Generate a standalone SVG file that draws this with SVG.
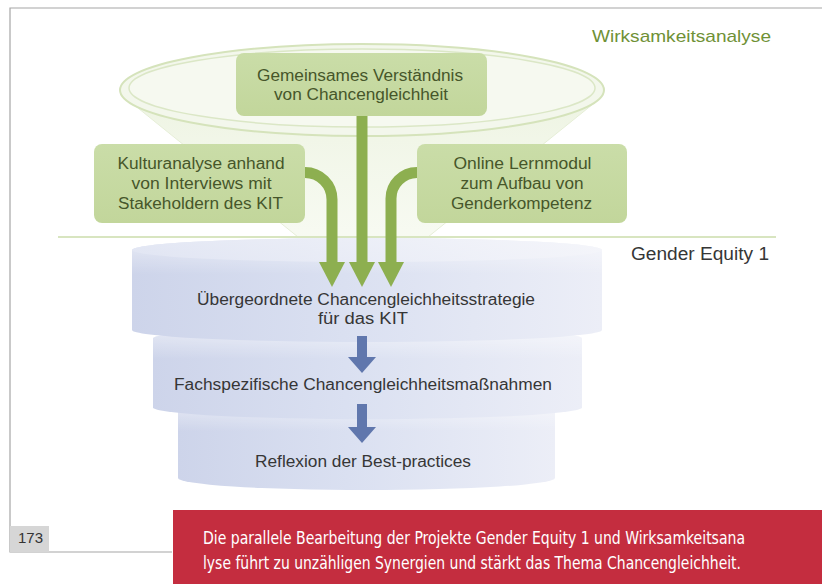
<svg xmlns="http://www.w3.org/2000/svg" width="822" height="584" viewBox="0 0 822 584">
  <defs>
    <style>
      .gtxt { font-family: "Liberation Sans", Arial, sans-serif; font-size: 16px; fill: #46562a; }
      .ttxt { font-family: "Liberation Sans", Arial, sans-serif; font-size: 16px; fill: #363636; }
      .box { fill: url(#boxGrad); }
      .garrow { fill: #8daf50; }
      .gline { fill: none; stroke: #8daf50; stroke-width: 11; }
      .barrow { fill: #6077ad; }
      .rtxt { font-family: "Liberation Sans Narrow", "DejaVu Sans Condensed", "Liberation Sans", sans-serif; font-size: 17px; fill: #ffffff; }
    </style>
    <linearGradient id="boxGrad" x1="0" y1="0" x2="0" y2="1">
      <stop offset="0" stop-color="#cadda8"/>
      <stop offset="1" stop-color="#c2d69b"/>
    </linearGradient>
    <linearGradient id="tierGrad" x1="0" y1="0" x2="1" y2="0">
      <stop offset="0" stop-color="#cdd4ea"/>
      <stop offset="0.45" stop-color="#dae0f1"/>
      <stop offset="1" stop-color="#eceef7"/>
    </linearGradient>
    <linearGradient id="shade" x1="0" y1="0" x2="0" y2="1">
      <stop offset="0" stop-color="#ffffff" stop-opacity="0.55"/>
      <stop offset="0.35" stop-color="#ffffff" stop-opacity="0"/>
      <stop offset="1" stop-color="#ffffff" stop-opacity="0"/>
    </linearGradient>
    <linearGradient id="capGrad" x1="0" y1="0" x2="1" y2="0">
      <stop offset="0" stop-color="#e3e7f4"/>
      <stop offset="1" stop-color="#f4f5fa"/>
    </linearGradient>
    <linearGradient id="coneGrad" x1="0" y1="0" x2="0" y2="1">
      <stop offset="0" stop-color="#eef4e3"/>
      <stop offset="1" stop-color="#f4f8ec" stop-opacity="0.7"/>
    </linearGradient>
  </defs>

  <rect x="0" y="0" width="822" height="584" fill="#ffffff"/>

  <!-- page frame -->
  <g id="frame" fill="none" stroke="#a6a6a6" stroke-width="1.2">
    <path d="M822,8 H10 V552 H172"/>
  </g>

  <!-- funnel -->
  <g id="funnel">
    <path d="M128,100 L298,237 L428,237 L598,100 Z" fill="url(#coneGrad)" stroke="#e6eed7" stroke-width="1"/>
    <ellipse cx="362" cy="90" rx="242" ry="46" fill="#f3f7ec" stroke="#d5e3bb" stroke-width="2"/>
    <ellipse cx="362" cy="88" rx="233" ry="39" fill="#f6f9f0" stroke="#dbe7c6" stroke-width="1.5"/>
  </g>

  <!-- separator -->
  <line x1="58" y1="237" x2="776" y2="237" stroke="#d8e5c0" stroke-width="2"/>

  <text x="592" y="42" font-family="Liberation Sans, Arial, sans-serif" font-size="17" fill="#6f9136" textLength="179" lengthAdjust="spacingAndGlyphs">Wirksamkeitsanalyse</text>
  <text x="631" y="260" font-family="Liberation Sans, Arial, sans-serif" font-size="18" fill="#363636" textLength="138" lengthAdjust="spacingAndGlyphs">Gender Equity 1</text>

  <!-- tiers (bottom first) -->
  <g id="tier3">
    <path d="M178,412 A188,12 0 0 1 555,412 L555,478 A188,12 0 0 1 178,478 Z" fill="url(#tierGrad)"/>
    <path d="M178,412 A188,12 0 0 1 555,412 L555,478 A188,12 0 0 1 178,478 Z" fill="url(#shade)"/>
    <text class="ttxt" x="255" y="467" textLength="216" lengthAdjust="spacingAndGlyphs">Reflexion der Best-practices</text>
  </g>
  <g id="tier2">
    <path d="M153,338 A215,12 0 0 1 582,338 L582,408 A215,12 0 0 1 153,408 Z" fill="url(#tierGrad)"/>
    <path d="M153,338 A215,12 0 0 1 582,338 L582,408 A215,12 0 0 1 153,408 Z" fill="url(#shade)"/>
    <text class="ttxt" x="174" y="390" textLength="378" lengthAdjust="spacingAndGlyphs">Fachspezifische Chancengleichheitsmaßnahmen</text>
  </g>
  <g id="tier1">
    <path d="M132,250 A235,12 0 0 1 602,250 L602,330 A235,12 0 0 1 132,330 Z" fill="url(#tierGrad)"/>
    <path d="M132,250 A235,12 0 0 1 602,250 L602,330 A235,12 0 0 1 132,330 Z" fill="url(#shade)"/>
    <ellipse cx="367" cy="250" rx="235" ry="12" fill="url(#capGrad)" opacity="0.8"/>
    <text class="ttxt" x="197" y="305" textLength="338" lengthAdjust="spacingAndGlyphs">Übergeordnete Chancengleichheitsstrategie</text>
    <text class="ttxt" x="318" y="324" textLength="90" lengthAdjust="spacingAndGlyphs">für das KIT</text>
  </g>

  <!-- green boxes -->
  <g id="box-top">
    <rect class="box" x="236" y="53" width="251" height="63" rx="8"/>
    <text class="gtxt" x="257" y="81" textLength="206" lengthAdjust="spacingAndGlyphs">Gemeinsames Verständnis</text>
    <text class="gtxt" x="274" y="100" textLength="174" lengthAdjust="spacingAndGlyphs">von Chancengleichheit</text>
  </g>
  <g id="box-left">
    <rect class="box" x="94" y="144" width="211" height="79" rx="8"/>
    <text class="gtxt" x="117.5" y="169" textLength="167" lengthAdjust="spacingAndGlyphs">Kulturanalyse anhand</text>
    <text class="gtxt" x="131.5" y="189" textLength="140" lengthAdjust="spacingAndGlyphs">von Interviews mit</text>
    <text class="gtxt" x="118" y="209" textLength="165" lengthAdjust="spacingAndGlyphs">Stakeholdern des KIT</text>
  </g>
  <g id="box-right">
    <rect class="box" x="417" y="144" width="210" height="79" rx="8"/>
    <text class="gtxt" x="453.5" y="169" textLength="138" lengthAdjust="spacingAndGlyphs">Online Lernmodul</text>
    <text class="gtxt" x="460.5" y="189" textLength="123" lengthAdjust="spacingAndGlyphs">zum Aufbau von</text>
    <text class="gtxt" x="451" y="209" textLength="141" lengthAdjust="spacingAndGlyphs">Genderkompetenz</text>
  </g>

  <!-- connectors -->
  <g id="connectors">
    <rect class="garrow" x="356.5" y="116" width="11" height="147"/>
    <polygon class="garrow" points="349,262 375,262 362,287"/>
    <path class="gline" d="M305,172.5 A27,27 0 0 1 332,199.5 V263"/>
    <polygon class="garrow" points="319,262 345,262 332,287"/>
    <path class="gline" d="M417,172.5 A26,26 0 0 0 391,198.5 V263"/>
    <polygon class="garrow" points="378,262 404,262 391,287"/>
    <rect class="barrow" x="357" y="336" width="10" height="22"/>
    <polygon class="barrow" points="348,357 376,357 362,373"/>
    <rect class="barrow" x="357" y="404" width="10" height="24"/>
    <polygon class="barrow" points="348,427 376,427 362,443"/>
  </g>

  <!-- page number -->
  <g id="pagenum">
    <rect x="10" y="526" width="39" height="26" fill="#d6d6d6"/>
    <text x="18" y="543" font-family="Liberation Sans, Arial, sans-serif" font-size="15" fill="#333333">173</text>
  </g>

  <!-- caption -->
  <g id="caption">
    <rect x="173" y="510" width="649" height="74" fill="#c42d3f"/>
    <text class="rtxt" x="203" y="544" textLength="542" lengthAdjust="spacingAndGlyphs">Die parallele Bearbeitung der Projekte Gender Equity 1 und Wirksamkeitsana</text>
    <text class="rtxt" x="203" y="569" textLength="538" lengthAdjust="spacingAndGlyphs">lyse führt zu unzähligen Synergien und stärkt das Thema Chancengleichheit.</text>
  </g>
</svg>
